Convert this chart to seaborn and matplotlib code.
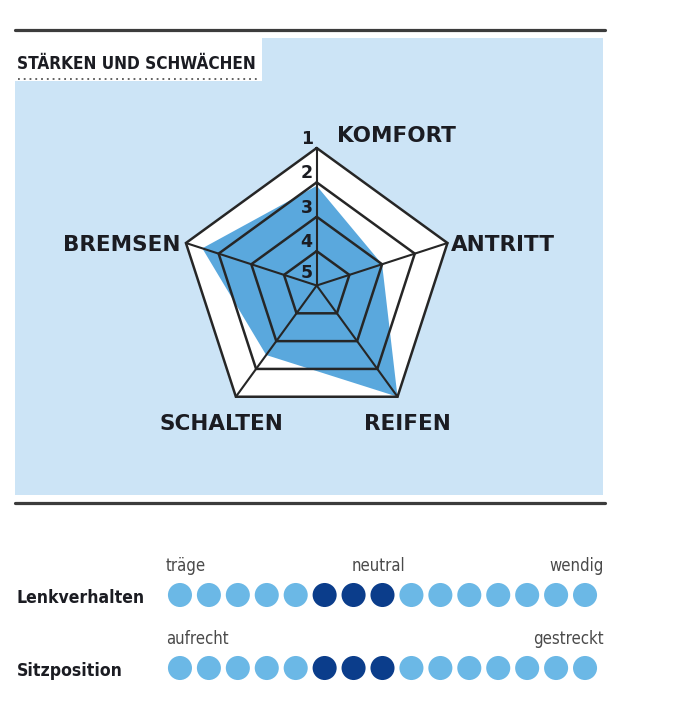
import os
import numpy as np
import pandas as pd
import matplotlib
matplotlib.use("Agg")
import matplotlib.pyplot as plt
from matplotlib import font_manager as fm
from matplotlib.patches import Rectangle
from matplotlib.lines import Line2D
import seaborn as sns

# ---------------- data ----------------
categories = ["KOMFORT", "ANTRITT", "REIFEN", "SCHALTEN", "BREMSEN"]
scores = [2.1, 3.0, 1.0, 2.5, 1.5]          # 1 = best (outer), 5 = centre
ring_levels = [1, 2, 3, 4, 5]

row_names = ["Lenkverhalten", "Sitzposition"]
n_dots = 15
lenk_marked = [6, 7, 8]
sitz_marked = [6, 7, 8]
lenk_scale = ["träge", "neutral", "wendig"]
sitz_scale = ["aufrecht", "gestreckt"]
title = "STÄRKEN UND SCHWÄCHEN"

# ---------------- style ----------------
sns.set_theme(style="white")
plt.rcParams["font.family"] = ["DejaVu Sans"]

BG_BLUE = "#cce4f6"
FILL_BLUE = "#5aa8dd"
DOT_LIGHT = "#6bb8e6"
DOT_DARK = "#0b3d8b"
LINE = "#262626"
TXT = "#1b1c22"


def pick_font(names, fallback_weight):
    files = {os.path.basename(f.fname): f.fname for f in fm.fontManager.ttflist}
    for n in names:
        if n in files:
            return fm.FontProperties(fname=files[n])
    return fm.FontProperties(family="DejaVu Sans", weight=fallback_weight)


cond_bold = pick_font(["LiberationSansNarrow-Bold.ttf", "DejaVuSansCondensed-Bold.ttf"], "bold")
cond_reg = pick_font(["LiberationSansNarrow-Regular.ttf", "DejaVuSansCondensed.ttf"], "normal")


def fp(base, size):
    p = base.copy()
    p.set_size(size)
    return p


W, H = 682, 720
fig = plt.figure(figsize=(W / 100, H / 100), dpi=100)
fig.patch.set_facecolor("white")


def fx(px):
    return px / W


def fy(py):
    return 1 - py / H


# panel background
fig.add_artist(Rectangle((fx(15), fy(495)), fx(603) - fx(15), fy(38) - fy(495),
                         transform=fig.transFigure, facecolor=BG_BLUE, edgecolor="none", zorder=0))
fig.add_artist(Rectangle((fx(15), fy(81)), fx(262) - fx(15), fy(38) - fy(81),
                         transform=fig.transFigure, facecolor="white", edgecolor="none", zorder=0.5))
# rules
for y in (30, 503):
    fig.add_artist(Line2D([fx(15), fx(605)], [fy(y), fy(y)], transform=fig.transFigure,
                          color="#3c3c3c", lw=2.3, zorder=2))
# title
fig.text(fx(17), fy(69), title, fontproperties=fp(cond_bold, 12.3), color=TXT,
         ha="left", va="baseline", zorder=3)
fig.add_artist(Line2D([fx(18), fx(259)], [fy(79), fy(79)], transform=fig.transFigure,
                      color="#555555", lw=1.3, linestyle=(0, (1, 2.2)), zorder=3))

# ---------------- radar ----------------
cx, cy, R = 316.7, 285.5, 137.5
ax = fig.add_axes([fx(cx - R), fy(cy + R), 2 * R / W, 2 * R / H], projection="polar")
ax.set_theta_zero_location("N")
ax.set_theta_direction(-1)
ax.set_ylim(0, 4)
ax.set_facecolor("none")
ax.grid(False)
ax.spines["polar"].set_visible(False)
ax.set_xticks([])
ax.set_yticks([])

n = len(categories)
theta = np.arange(n) * 2 * np.pi / n
theta_c = np.append(theta, theta[0])
rmax = 5 - min(ring_levels)

ax.fill(theta_c, np.full(n + 1, rmax), color="white", zorder=1, clip_on=False)
r_data = 5 - np.array(scores)
ax.fill(theta_c, np.append(r_data, r_data[0]), color=FILL_BLUE, zorder=2, clip_on=False, lw=0)
for lvl in ring_levels[:-1]:
    ax.plot(theta_c, np.full(n + 1, 5 - lvl), color=LINE, lw=1.8, zorder=3, clip_on=False,
            solid_joinstyle="miter")
for t in theta:
    ax.plot([t, t], [0, rmax], color=LINE, lw=1.5, zorder=3, clip_on=False)

for lvl in ring_levels:
    off = (-10, 13) if lvl == 5 else (-10, 9)
    ax.annotate(str(lvl), xy=(0, 5 - lvl), xytext=off, textcoords="offset pixels",
                ha="center", va="center", fontsize=12.5, fontweight="bold", color=TXT, zorder=4)

label_offsets = [(20, 12, "left"), (3, -2, "left"), (10, -27, "center"),
                 (-14, -27, "center"), (-5, -2, "right")]
for t, name, (dx, dy, ha) in zip(theta, categories, label_offsets):
    ax.annotate(name, xy=(t, rmax), xytext=(dx, dy), textcoords="offset pixels",
                ha=ha, va="center", fontsize=15.5, fontweight="heavy", color=TXT,
                annotation_clip=False)

# ---------------- dot rows ----------------
dax = fig.add_axes([fx(165.5), fy(700), (599.5 - 165.5) / W, 160 / H])
rows = []
for ri, marked in enumerate([lenk_marked, sitz_marked]):
    for p in range(1, n_dots + 1):
        rows.append({"pos": p, "row": ri, "state": "on" if p in marked else "off"})
df = pd.DataFrame(rows)
sns.scatterplot(data=df, x="pos", y="row", hue="state",
                palette={"on": DOT_DARK, "off": DOT_LIGHT}, s=300, linewidth=0,
                legend=False, ax=dax, clip_on=False)
dax.set_xlim(0.5, 15.5)
dax.set_ylim((700 - 595) / 73, (540 - 595) / 73)
dax.axis("off")

small = fp(cond_reg, 12)
dax.text(0.52, -0.40, lenk_scale[0], fontproperties=small, color="#4a4a4a", ha="left", va="center")
dax.text(7.85, -0.40, lenk_scale[1], fontproperties=small, color="#4a4a4a", ha="center", va="center")
dax.text(15.65, -0.40, lenk_scale[2], fontproperties=small, color="#4a4a4a", ha="right", va="center")
dax.text(0.52, 0.60, sitz_scale[0], fontproperties=small, color="#4a4a4a", ha="left", va="center")
dax.text(15.65, 0.60, sitz_scale[1], fontproperties=small, color="#4a4a4a", ha="right", va="center")

for ri, name in enumerate(row_names):
    fig.text(fx(17), fy(598 + ri * 73), name, fontproperties=fp(cond_bold, 12.6), color=TXT,
             ha="left", va="center")

fig.savefig("out.png", dpi=100, facecolor="white")
